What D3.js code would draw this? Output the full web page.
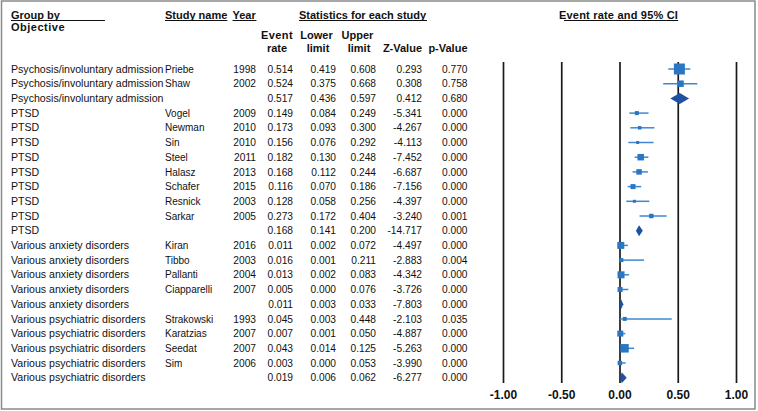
<!DOCTYPE html>
<html><head><meta charset="utf-8">
<script src="https://cdn.jsdelivr.net/npm/d3@7"></script>
<style>
html,body{margin:0;padding:0;background:#fff;}
svg{display:block;font-family:"Liberation Sans",Arial,sans-serif;}
</style></head>
<body>
<script>
const groups = [
 "Psychosis/involuntary admission","Psychosis/involuntary admission","Psychosis/involuntary admission",
 "PTSD","PTSD","PTSD","PTSD","PTSD","PTSD","PTSD","PTSD","PTSD",
 "Various anxiety disorders","Various anxiety disorders","Various anxiety disorders","Various anxiety disorders","Various anxiety disorders",
 "Various psychiatric disorders","Various psychiatric disorders","Various psychiatric disorders","Various psychiatric disorders","Various psychiatric disorders"];
const studies = ["Priebe","Shaw","","Vogel","Newman","Sin","Steel","Halasz","Schafer","Resnick","Sarkar","",
 "Kiran","Tibbo","Pallanti","Ciapparelli","","Strakowski","Karatzias","Seedat","Sim",""];
const years = ["1998","2002","","2009","2010","2010","2011","2013","2015","2003","2005","",
 "2016","2003","2004","2007","","1993","2007","2007","2006",""];
const eventRate = [0.514,0.524,0.517,0.149,0.173,0.156,0.182,0.168,0.116,0.128,0.273,0.168,
 0.011,0.016,0.013,0.005,0.011,0.045,0.007,0.043,0.003,0.019];
const lowerLimit = [0.419,0.375,0.436,0.084,0.093,0.076,0.130,0.112,0.070,0.058,0.172,0.141,
 0.002,0.001,0.002,0.000,0.003,0.003,0.001,0.014,0.000,0.006];
const upperLimit = [0.608,0.668,0.597,0.249,0.300,0.292,0.248,0.244,0.186,0.256,0.404,0.200,
 0.072,0.211,0.083,0.076,0.033,0.448,0.050,0.125,0.053,0.062];
const zValue = ["0.293","0.308","0.412","-5.341","-4.267","-4.113","-7.452","-6.687","-7.156","-4.397","-3.240","-14.717",
 "-4.497","-2.883","-4.342","-3.726","-7.803","-2.103","-4.887","-5.263","-3.990","-6.277"];
const pValue = ["0.770","0.758","0.680","0.000","0.000","0.000","0.000","0.000","0.000","0.000","0.001","0.000",
 "0.000","0.004","0.000","0.000","0.000","0.035","0.000","0.000","0.000","0.000"];
// relative study weights (marker area); 0 marks a pooled (summary) row
const weights = [121,42,0,16,12,9,42,30,25,9,20,0,49,16,49,25,0,16,36,72,20,0];
const axisTicks = [-1,-0.5,0,0.5,1];

const W=758,H=411;
const svg=d3.select("body").append("svg").attr("width",W).attr("height",H);
svg.append("rect").attr("x",1.5).attr("y",1).attr("width",753.5).attr("height",408)
  .attr("fill","none").attr("stroke","#8a8a8a").attr("stroke-width",1.5);

const idx=d3.range(groups.length);
const y=d3.scalePoint().domain(idx).range([69,377.7]);
const x=d3.scaleLinear().domain([-1,1]).range([503,736]);
const sz=d3.scaleSqrt().domain([0,121]).range([0,11]);

// headers
const hdr=svg.append("g").attr("font-weight","bold").attr("font-size",11).attr("fill","#111");
function htext(t,xx,yy,anchor,underline,ls){
  const el=hdr.append("text").attr("x",xx).attr("y",yy).attr("text-anchor",anchor||"start").text(t);
  if(ls) el.attr("letter-spacing",ls);
  if(underline){
    const bb=el.node().getBBox();
    hdr.append("line").attr("x1",underline[0]!=null?underline[0]:bb.x).attr("x2",underline[1]!=null?underline[1]:bb.x+bb.width)
      .attr("y1",yy+2).attr("y2",yy+2).attr("stroke","#111").attr("stroke-width",1);
  }
}
htext("Group by",11,18.5,"start",[11,105]);
htext("Objective",11,30.5,"start",null,0.5);
htext("Study name",165,18.5,"start",[null,null]);
htext("Year",232.5,18.5,"start",[null,null]);
htext("Statistics for each study",299,18.5,"start",[null,null]);
htext("Event rate and 95% CI",559,18.5,"start",[564,null],0.2);
htext("Event",277,39,"middle",null,0.4);htext("rate",277,52,"middle");
htext("Lower",316.5,39,"middle");htext("limit",318,52,"middle");
htext("Upper",357.5,39,"middle");htext("limit",359,52,"middle");
htext("Z-Value",422,52,"end");htext("p-Value",467.5,52,"end");

// rows
const rows=svg.append("g").attr("font-size",10.2).attr("fill","#111");
const f3=d3.format(".3f");
idx.forEach(i=>{
  const yy=y(i)+3.6;
  rows.append("text").attr("x",11).attr("y",yy).attr("font-size",10.6).text(groups[i]);
  rows.append("text").attr("x",165).attr("y",yy).attr("font-size",10).text(studies[i]);
  rows.append("text").attr("x",256).attr("y",yy).attr("text-anchor","end").text(years[i]);
  rows.append("text").attr("x",293).attr("y",yy).attr("text-anchor","end").text(f3(eventRate[i]));
  rows.append("text").attr("x",336).attr("y",yy).attr("text-anchor","end").text(f3(lowerLimit[i]));
  rows.append("text").attr("x",376).attr("y",yy).attr("text-anchor","end").text(f3(upperLimit[i]));
  rows.append("text").attr("x",422).attr("y",yy).attr("text-anchor","end").text(zValue[i]);
  rows.append("text").attr("x",467.5).attr("y",yy).attr("text-anchor","end").text(pValue[i]);
});

// axis with vertical reference lines
const fmt=v=>d3.format(".2f")(v).replace("−","-");
const ax=svg.append("g").attr("transform","translate(0,383)")
  .call(d3.axisBottom(x).tickValues(axisTicks).tickSize(-321).tickPadding(7).tickFormat(fmt));
ax.select(".domain").remove();
ax.selectAll(".tick line").attr("stroke","#1a1a1a").attr("stroke-width",1.7);
ax.selectAll(".tick text").attr("font-family","Liberation Sans, Arial, sans-serif")
  .attr("font-size",12).attr("font-weight","bold").attr("fill","#111");

// forest marks
const plot=svg.append("g");
idx.forEach(i=>{
  const cy=y(i);
  if(weights[i]>0){
    plot.append("line").attr("x1",x(lowerLimit[i])).attr("x2",x(upperLimit[i]))
      .attr("y1",cy).attr("y2",cy).attr("stroke","#3f87d2").attr("stroke-width",1.5);
    const s=sz(weights[i]);
    plot.append("rect").attr("x",x(eventRate[i])-s/2).attr("y",cy-s/2)
      .attr("width",s).attr("height",s).attr("fill","#2b76c3");
  } else {
    const pts=[[x(lowerLimit[i]),cy],[x(eventRate[i]),cy-5.5],[x(upperLimit[i]),cy],[x(eventRate[i]),cy+5.5]];
    plot.append("path").attr("d","M"+pts.join("L")+"Z").attr("fill","#1f50a2");
  }
});
</script>
</body></html>
